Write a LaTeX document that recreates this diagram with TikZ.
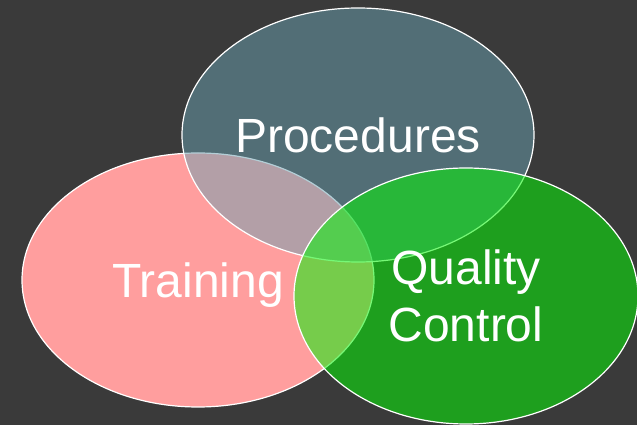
\documentclass[tikz,border=0pt]{standalone}
\usepackage{fontspec}
\setmainfont{Liberation Sans}
\usetikzlibrary{shapes.geometric}
\definecolor{bgdark}{RGB}{58,58,58}
\definecolor{trainpink}{RGB}{255,158,158}
\definecolor{procblue}{RGB}{107,160,176}
\definecolor{qcgreen}{RGB}{7,243,7}
\begin{document}
\begin{tikzpicture}[x=1pt, y=1pt]
	\tikzset{blob/.style={ellipse, draw=white, line width=1.2pt, text=white, text opacity=1, align=center, inner sep=0pt, text depth=0pt, font=\fontsize{48}{57}\selectfont}}
	\fill[bgdark] (0,0) rectangle (637,425);
	\useasboundingbox (0,0) rectangle (637,425);
	\node[blob, fill=trainpink, minimum width=352pt, minimum height=254pt] (train) at (198,145) {Training};
	\node[blob, fill=procblue, fill opacity=0.51, minimum width=352pt, minimum height=254pt] (proc) at (358,290) {Procedures};
	\node[blob, fill=qcgreen, fill opacity=0.55, minimum width=344pt, minimum height=256pt] (qc) at (466,129) {Quality\\Control};
	\end{tikzpicture}
\end{document}
